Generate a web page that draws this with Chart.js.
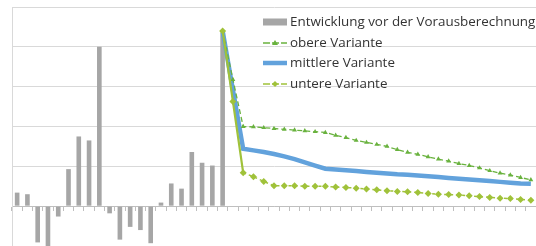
<!DOCTYPE html>
<html>
<head>
<meta charset="utf-8">
<script src="https://cdn.jsdelivr.net/npm/chart.js@4"></script>
<style>
  html, body { margin: 0; padding: 0; background: #fff; overflow: hidden; }
  #wrap { width: 536px; height: 246px; overflow: hidden; }
</style>
</head>
<body>
<div id="wrap"><canvas id="bevChart" width="540" height="250"></canvas></div>
<script>
// Jahre (Achsenbeschriftung im Ausschnitt nicht sichtbar)
const jahre = [];
for (let j = 1991; j <= 2041; j++) jahre.push(String(j));

// Entwicklung vor der Vorausberechnung
const entwicklung = [0.34, 0.30, -0.91, -1.05, -0.26, 0.93, 1.75, 1.65, 4.0, -0.18,
  -0.84, -0.52, -0.60, -0.93, 0.09, 0.57, 0.44, 1.36, 1.09, 1.02, 4.35];

// Varianten ab dem letzten Ist-Jahr (Index 20)
const obere = [4.4, 3.18, 2.0, 1.99, 1.97, 1.95, 1.93, 1.91, 1.89, 1.87, 1.85,
  1.78, 1.72, 1.65, 1.60, 1.55, 1.50, 1.42, 1.35, 1.30, 1.24,
  1.18, 1.13, 1.07, 1.02, 0.96, 0.89, 0.83, 0.78, 0.72, 0.66];
const mittlere = [4.4, 2.92, 1.44, 1.40, 1.36, 1.31, 1.25, 1.18, 1.10, 1.02, 0.94,
  0.92, 0.90, 0.88, 0.86, 0.84, 0.82, 0.80, 0.79, 0.77, 0.75,
  0.73, 0.71, 0.69, 0.67, 0.65, 0.63, 0.61, 0.59, 0.57, 0.56];
const untere = [4.4, 2.63, 0.84, 0.74, 0.62, 0.51, 0.51, 0.51, 0.50, 0.50, 0.50,
  0.48, 0.47, 0.45, 0.43, 0.41, 0.39, 0.37, 0.36, 0.34, 0.32,
  0.30, 0.29, 0.28, 0.26, 0.24, 0.22, 0.20, 0.19, 0.17, 0.15];

const yTicks = [-1, 0, 1, 2, 3, 4, 5];

const start = entwicklung.length - 1;
const pad = arr => Array(start).fill(null).concat(arr);

// eigene Legende oben im Diagramm
const legendePlugin = {
  id: 'legende',
  afterDraw(chart) {
    const ctx = chart.ctx;
    const x0 = 263, x1 = 287, tx = 290, xm = (x0 + x1) / 2;
    const rows = [22, 43, 63, 84];
    ctx.save();
    ctx.font = '13.4px "Open Sans"';
    ctx.textBaseline = 'middle';
    chart.data.datasets.forEach((ds, i) => {
      const y = rows[i];
      if (ds.type === 'bar') {
        ctx.fillStyle = ds.backgroundColor;
        ctx.fillRect(x0, y - 3.5, x1 - x0, 7);
      } else {
        ctx.strokeStyle = ds.borderColor;
        ctx.fillStyle = ds.borderColor;
        ctx.lineWidth = ds.pointRadius > 0 ? 1.5 : ds.borderWidth;
        ctx.setLineDash(ds.pointRadius > 0 ? [7, 2] : []);
        ctx.beginPath();
        ctx.moveTo(x0, y);
        ctx.lineTo(x1, y);
        ctx.stroke();
        ctx.setLineDash([]);
        ctx.beginPath();
        if (ds.pointStyle === 'triangle') {
          ctx.moveTo(xm, y - 3);
          ctx.lineTo(xm + 3, y + 2);
          ctx.lineTo(xm - 3, y + 2);
          ctx.closePath();
          ctx.fill();
        } else if (ds.pointStyle === 'rectRot') {
          ctx.moveTo(xm, y - 3);
          ctx.lineTo(xm + 3, y);
          ctx.lineTo(xm, y + 3);
          ctx.lineTo(xm - 3, y);
          ctx.closePath();
          ctx.fill();
        }
      }
      ctx.fillStyle = '#333333';
      ctx.fillText(ds.label, tx, y + 0.5);
    });
    ctx.restore();
  }
};

new Chart(document.getElementById('bevChart'), {
  data: {
    labels: jahre,
    datasets: [
      {
        type: 'bar',
        label: 'Entwicklung vor der Vorausberechnung',
        data: entwicklung,
        backgroundColor: '#a6a6a6',
        barPercentage: 0.45,
        categoryPercentage: 1,
        order: 4
      },
      {
        type: 'line',
        label: 'obere Variante',
        data: pad(obere),
        borderColor: '#69b23e',
        backgroundColor: '#69b23e',
        borderWidth: 1.3,
        borderDash: [5, 3],
        pointStyle: 'triangle',
        pointRadius: 2.8,
        pointBorderWidth: 0,
        order: 2
      },
      {
        type: 'line',
        label: 'mittlere Variante',
        data: pad(mittlere),
        borderColor: '#62a2dc',
        backgroundColor: '#62a2dc',
        borderWidth: 4.5,
        pointRadius: 0,
        order: 3
      },
      {
        type: 'line',
        label: 'untere Variante',
        data: pad(untere),
        borderColor: '#a0c23a',
        backgroundColor: '#a0c23a',
        borderWidth: 1.5,
        borderDash: [3, 3],
        segment: {
          borderDash: c => c.p0DataIndex < start + 2 ? [] : [3, 3],
          borderWidth: c => c.p0DataIndex < start + 2 ? 2.2 : 1.5
        },
        pointStyle: 'rectRot',
        pointRadius: 3.5,
        pointBorderWidth: 0,
        order: 1
      }
    ]
  },
  options: {
    responsive: false,
    animation: false,
    layout: { padding: { left: 12, top: 7, right: 0, bottom: 1 } },
    plugins: {
      legend: { display: false },
      tooltip: { enabled: false }
    },
    scales: {
      x: {
        type: 'category',
        position: { y: 0 },
        offset: true,
        grid: {
          offset: true,
          drawOnChartArea: false,
          drawTicks: true,
          tickLength: 4,
          color: '#bfbfbf'
        },
        border: { color: '#bfbfbf' },
        ticks: { display: false }
      },
      y: {
        min: yTicks[0],
        max: yTicks[yTicks.length - 1],
        afterBuildTicks: s => { s.ticks = yTicks.map(v => ({ value: v })); },
        grid: { color: '#d9d9d9', drawTicks: false },
        border: { color: '#d9d9d9' },
        ticks: { display: false }
      }
    }
  },
  plugins: [legendePlugin]
});
</script>
</body>
</html>
